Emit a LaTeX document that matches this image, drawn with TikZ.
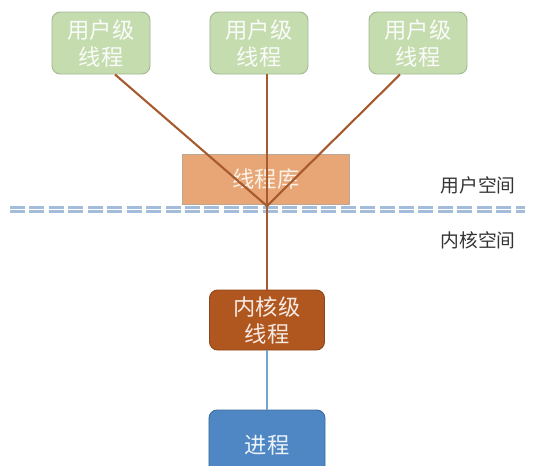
\documentclass[tikz,border=0pt]{standalone}
\usepackage{fontspec}
\newfontfamily\cjk{Noto Sans CJK SC}
\usetikzlibrary{positioning}

\definecolor{ugreen}{HTML}{C5DCAF}
\definecolor{ugreenline}{HTML}{A3B993}
\definecolor{liborange}{HTML}{E8A676}
\definecolor{libline}{HTML}{B9A898}
\definecolor{kbrown}{HTML}{B0561F}
\definecolor{kbrownline}{HTML}{8E4418}
\definecolor{pblue}{HTML}{4F87C4}
\definecolor{linkbrown}{HTML}{A65A2E}
\definecolor{linkblue}{HTML}{74A3D2}
\definecolor{sepblue}{HTML}{A2BCDA}

\begin{document}
\begin{tikzpicture}[x=0.03cm,y=-0.03cm,
  font=\cjk\fontsize{19}{23}\selectfont,
  userbox/.style={draw=ugreenline,fill=ugreen,thick,rounded corners=7pt,
    minimum width=2.94cm,minimum height=1.86cm,align=center,text=white!92!ugreen,inner sep=1pt},
  libbox/.style={draw=libline,fill=liborange,thick,
    minimum width=5.0cm,minimum height=1.5cm,text=white!85!liborange},
  kernbox/.style={draw=kbrownline,fill=kbrown,thick,rounded corners=7pt,
    minimum width=3.45cm,minimum height=1.8cm,align=center,text=white!88!kbrown,inner sep=1pt},
  procbox/.style={draw=pblue!80!black,fill=pblue,thick,rounded corners=7pt,
    minimum width=3.48cm,minimum height=2.1cm,text=white!90!pblue},
  link/.style={linkbrown,line width=1.8pt},
  seplane/.style={sepblue,line width=1.8pt,dash pattern=on 12.8pt off 3.8pt},
  space/.style={text=black!80,font=\cjk\fontsize{16}{19}\selectfont}]
  \useasboundingbox (0,0) rectangle (553,465);

  % thread library and the split between the two spaces
  \node[libbox] (lib) at (266,179) {线程库};
  \coordinate (hub) at (267,206);
  \coordinate (sepL1) at (10,207.5);
  \coordinate (sepR1) at (525,207.5);
  \coordinate (sepL2) at (10,211.5);
  \coordinate (sepR2) at (525,211.5);
  \draw[seplane] (sepL1) -- (sepR1);
  \draw[seplane] (sepL2) -- (sepR2);
  \node[space] (uspace) at (478,185) {用户空间};
  \node[space] (kspace) at (478,240) {内核空间};

  % user level threads
  \node[userbox] (ut1) at (101,43) {用户级\\线程};
  \node[userbox] (ut2) at (259,43) {用户级\\线程};
  \node[userbox] (ut3) at (418,43) {用户级\\线程};

  % kernel thread and process
  \node[kernbox] (kt) at (267,320) {内核级\\线程};
  \node[procbox] (proc) at (267,445) {进程};

  \draw[link] ([xshift=14*0.03cm]ut1.south) -- (hub);
  \draw[link] ([xshift=8*0.03cm]ut2.south) -- (hub);
  \draw[link] ([xshift=-18*0.03cm]ut3.south) -- (hub);
  \draw[link] (hub) -- (kt.north);
  \draw[linkblue,line width=1.8pt] (kt.south) -- (proc.north);
\end{tikzpicture}
\end{document}
